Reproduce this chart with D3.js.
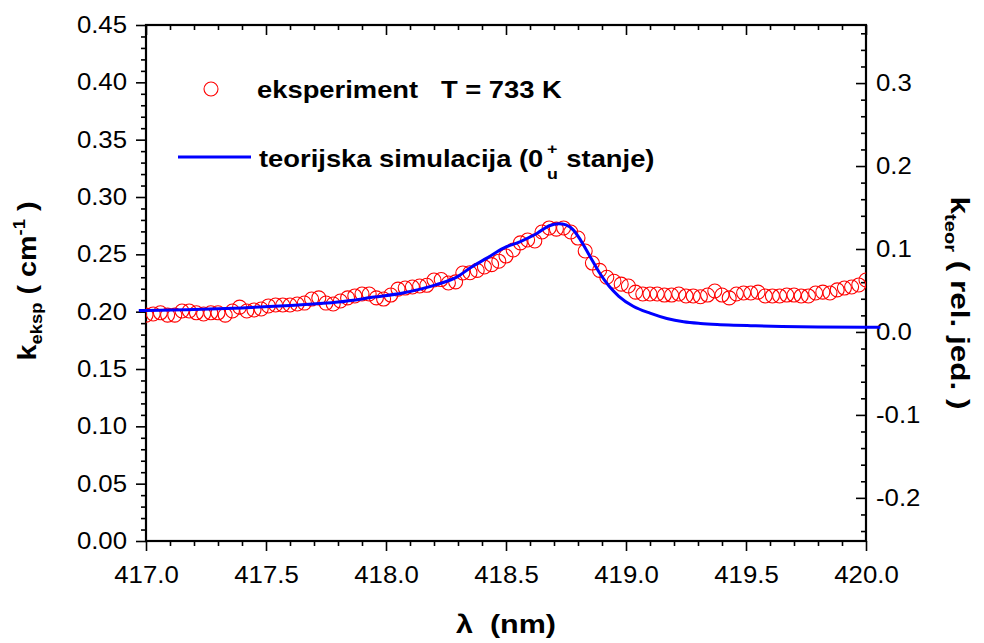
<!DOCTYPE html>
<html>
<head>
<meta charset="utf-8">
<script src="https://cdn.jsdelivr.net/npm/d3@7/dist/d3.min.js"></script>
<style>
  html, body { margin: 0; padding: 0; background: #fff; }
  svg { display: block; }
  text { font-family: "Liberation Sans", Arial, sans-serif; white-space: pre; }
</style>
</head>
<body>
<svg id="chart" width="984" height="643"></svg>
<script>
// ---------------- DATA ----------------
const wavelengths = [
  417.00, 417.03, 417.06, 417.09, 417.12, 417.15, 417.18, 417.21, 417.24, 417.27,
  417.30, 417.33, 417.36, 417.39, 417.42, 417.45, 417.48, 417.51, 417.54, 417.57,
  417.60, 417.63, 417.66, 417.69, 417.72, 417.75, 417.78, 417.81, 417.84, 417.87,
  417.90, 417.93, 417.96, 417.99, 418.02, 418.05, 418.08, 418.11, 418.14, 418.17,
  418.20, 418.23, 418.26, 418.29, 418.32, 418.35, 418.38, 418.41, 418.44, 418.47,
  418.50, 418.53, 418.56, 418.59, 418.62, 418.65, 418.68, 418.71, 418.74, 418.77,
  418.80, 418.83, 418.86, 418.89, 418.92, 418.95, 418.98, 419.01, 419.04, 419.07,
  419.10, 419.13, 419.16, 419.19, 419.22, 419.25, 419.28, 419.31, 419.34, 419.37,
  419.40, 419.43, 419.46, 419.49, 419.52, 419.55, 419.58, 419.61, 419.64, 419.67,
  419.70, 419.73, 419.76, 419.79, 419.82, 419.85, 419.88, 419.91, 419.94, 419.97,
  420.00
];
const kEksp = [
  0.197, 0.198, 0.199, 0.197, 0.197, 0.2006, 0.2006, 0.199, 0.198, 0.199,
  0.199, 0.197, 0.2006, 0.204, 0.2006, 0.2015, 0.2023, 0.205, 0.2058, 0.2058,
  0.2058, 0.2067, 0.2075, 0.211, 0.212, 0.2075, 0.2067, 0.2093, 0.212, 0.2137,
  0.2154, 0.2154, 0.212, 0.211, 0.2145, 0.2197, 0.2206, 0.2215, 0.2224, 0.223,
  0.2276, 0.228, 0.225, 0.226, 0.2337, 0.234, 0.236, 0.239, 0.241, 0.244,
  0.2485, 0.2538, 0.260, 0.2625, 0.2616, 0.2695, 0.273, 0.272, 0.273, 0.2695,
  0.2642, 0.2529, 0.2424, 0.236, 0.230, 0.2265, 0.224, 0.2224, 0.217, 0.2154,
  0.2154, 0.2154, 0.2145, 0.2145, 0.2154, 0.2137, 0.2137, 0.213, 0.2145, 0.218,
  0.2145, 0.212, 0.2154, 0.2163, 0.2163, 0.217, 0.2137, 0.2137, 0.2137, 0.2145,
  0.2145, 0.2137, 0.2137, 0.2163, 0.217, 0.2163, 0.219, 0.2206, 0.2215, 0.2233,
  0.2276
];
const teorWavelengths = [
  416.97, 417.00, 417.20, 417.40, 417.60, 417.80, 417.95, 418.07, 418.21, 418.30,
  418.35, 418.42, 418.49, 418.56, 418.63, 418.68, 418.72, 418.75, 418.78, 418.81,
  418.85, 418.89, 418.93, 418.97, 419.03, 419.10, 419.17, 419.24, 419.31, 419.38,
  419.45, 419.52, 419.65, 419.80, 420.00, 420.06
];
const kTeor = [
  0.026, 0.026, 0.027, 0.029, 0.032, 0.036, 0.042, 0.047, 0.057, 0.067,
  0.077, 0.089, 0.101, 0.109, 0.119, 0.128, 0.1305, 0.129, 0.123, 0.111,
  0.091, 0.071, 0.055, 0.043, 0.031, 0.0226, 0.0162, 0.0122, 0.0102, 0.0090,
  0.0082, 0.0076, 0.0066, 0.0060, 0.0057, 0.0057
];
const xTickValues = [417.0, 417.5, 418.0, 418.5, 419.0, 419.5, 420.0];
const xMinorTicks = [417.1,417.2,417.3,417.4,417.6,417.7,417.8,417.9,418.1,418.2,418.3,418.4,418.6,418.7,418.8,418.9,419.1,419.2,419.3,419.4,419.6,419.7,419.8,419.9];
const yLeftTickValues = [0.00, 0.05, 0.10, 0.15, 0.20, 0.25, 0.30, 0.35, 0.40, 0.45];
const yLeftMinorTicks = [0.01,0.02,0.03,0.04,0.06,0.07,0.08,0.09,0.11,0.12,0.13,0.14,0.16,0.17,0.18,0.19,0.21,0.22,0.23,0.24,0.26,0.27,0.28,0.29,0.31,0.32,0.33,0.34,0.36,0.37,0.38,0.39,0.41,0.42,0.43,0.44];
const yRightTickValues = [-0.2, -0.1, 0.0, 0.1, 0.2, 0.3];
const yRightMinorTicks = [-0.24,-0.22,-0.18,-0.16,-0.14,-0.12,-0.08,-0.06,-0.04,-0.02,0.02,0.04,0.06,0.08,0.12,0.14,0.16,0.18,0.22,0.24,0.26,0.28,0.32,0.34,0.36];
const legendLabels = ["eksperiment   T = 733 K", "teorijska simulacija (0"];

// ---------------- LAYOUT ----------------
const L = 146, R = 866, T = 25, B = 541;
const svg = d3.select("#chart");
const x = d3.scaleLinear().domain([417, 420]).range([L, R]);
const yL = d3.scaleLinear().domain([0, 0.45]).range([B, T]);
const yR = d3.scaleLinear().domain([-0.252, 0.37]).range([B, T]);

const TICK_FS = 23, TICK_K = 1.12;
function stretch(sel, k) {
  sel.each(function () {
    const w = this.getComputedTextLength();
    this.setAttribute("textLength", (w * k).toFixed(2));
    this.setAttribute("lengthAdjust", "spacingAndGlyphs");
  });
}
function styleAxis(g, labels) {
  g.select(".domain").remove();
  g.selectAll(".tick line").attr("stroke", "#000").attr("stroke-width", 1.6);
  g.selectAll(".tick text").attr("fill", "#000").style("font-size", TICK_FS + "px")
    .style("font-family", '"Liberation Sans", Arial, sans-serif');
  if (labels) stretch(g.selectAll(".tick text"), TICK_K);
}

// bottom axis
const gB = svg.append("g").attr("transform", `translate(0,${B})`);
gB.call(d3.axisBottom(x).tickValues(xTickValues).tickSize(10).tickSizeOuter(0).tickPadding(16).tickFormat(d => d.toFixed(1)));
styleAxis(gB, true);
const gBm = svg.append("g").attr("transform", `translate(0,${B})`);
gBm.call(d3.axisBottom(x).tickValues(xMinorTicks).tickSize(5).tickSizeOuter(0).tickFormat(""));
styleAxis(gBm, false);

// top axis (inward ticks)
const gT = svg.append("g").attr("transform", `translate(0,${T})`);
gT.call(d3.axisTop(x).tickValues(xTickValues).tickSize(-10).tickSizeOuter(0).tickFormat(""));
styleAxis(gT, false);
const gTm = svg.append("g").attr("transform", `translate(0,${T})`);
gTm.call(d3.axisTop(x).tickValues(xMinorTicks).tickSize(-5).tickSizeOuter(0).tickFormat(""));
styleAxis(gTm, false);

// left axis
const gL = svg.append("g").attr("transform", `translate(${L},0)`);
gL.call(d3.axisLeft(yL).tickValues(yLeftTickValues).tickSize(10).tickSizeOuter(0).tickPadding(9).tickFormat(d => d.toFixed(2)));
styleAxis(gL, true);
const gLm = svg.append("g").attr("transform", `translate(${L},0)`);
gLm.call(d3.axisLeft(yL).tickValues(yLeftMinorTicks).tickSize(5).tickSizeOuter(0).tickFormat(""));
styleAxis(gLm, false);

// right axis (inward ticks)
const gR = svg.append("g").attr("transform", `translate(${R},0)`);
gR.call(d3.axisRight(yR).tickValues(yRightTickValues).tickSize(-10).tickSizeOuter(0).tickPadding(10).tickFormat(d => d.toFixed(1)));
styleAxis(gR, true);
const gRm = svg.append("g").attr("transform", `translate(${R},0)`);
gRm.call(d3.axisRight(yR).tickValues(yRightMinorTicks).tickSize(-5).tickSizeOuter(0).tickFormat(""));
styleAxis(gRm, false);

// frame
svg.append("rect").attr("x", L).attr("y", T).attr("width", R - L).attr("height", B - T)
  .attr("fill", "none").attr("stroke", "#000").attr("stroke-width", 2.2);

// clip for markers
svg.append("clipPath").attr("id", "plotclip").append("rect")
  .attr("x", L).attr("y", T).attr("width", R - L).attr("height", B - T);

// experimental circles
const expData = wavelengths.map((w, i) => ({ w, k: kEksp[i] }));
svg.append("g").attr("clip-path", "url(#plotclip)")
  .selectAll("circle").data(expData).join("circle")
  .attr("cx", d => x(d.w)).attr("cy", d => yL(d.k)).attr("r", 7)
  .attr("fill", "none").attr("stroke", "#ff0000").attr("stroke-width", 1.1);

// theoretical line
const teorData = teorWavelengths.map((w, i) => ({ w, k: kTeor[i] }));
const line = d3.line().x(d => x(d.w)).y(d => yR(d.k)).curve(d3.curveMonotoneX);
svg.append("path").datum(teorData).attr("d", line)
  .attr("fill", "none").attr("stroke", "#0000ff").attr("stroke-width", 3).attr("stroke-linejoin", "round");

// rich text helper: runs = [{t, fs, dy, dx}]
function rich(g, runs, anchor) {
  const t = g.append("text").attr("text-anchor", anchor || "start").attr("fill", "#000")
    .style("font-weight", "bold");
  runs.forEach(r => {
    const ts = t.append("tspan").text(r.t).style("font-size", r.fs + "px");
    if (r.dy) ts.attr("dy", r.dy);
    if (r.dx) ts.attr("dx", r.dx);
  });
  return t;
}

// legend
const LEG_K = 1.19;
svg.append("circle").attr("cx", 211).attr("cy", 89).attr("r", 7)
  .attr("fill", "none").attr("stroke", "#ff0000").attr("stroke-width", 1.1);
const lg1 = svg.append("g").attr("transform", `translate(257,98) scale(${LEG_K},1)`);
rich(lg1, [{ t: legendLabels[0], fs: 23 }]);

svg.append("line").attr("x1", 178).attr("x2", 251).attr("y1", 157).attr("y2", 157)
  .attr("stroke", "#0000ff").attr("stroke-width", 3);
const lg2 = svg.append("g").attr("transform", `translate(259,167) scale(${LEG_K},1)`);
rich(lg2, [
  { t: legendLabels[1], fs: 23 },
  { t: "u", fs: 15, dy: 12, dx: 3 },
  { t: "+", fs: 15, dy: -25, dx: -9 },
  { t: " stanje)", fs: 23, dy: 13, dx: 1 }
]);

// axis titles
const gxt = svg.append("g").attr("transform", `translate(506,633) scale(1.22,1)`);
rich(gxt, [{ t: "λ  (nm)", fs: 25 }], "middle");

const gyl = svg.append("g").attr("transform", `translate(36,281) rotate(-90) scale(1.15,1)`);
rich(gyl, [
  { t: "k", fs: 25 },
  { t: "eksp", fs: 16, dy: 6 },
  { t: " ( cm", fs: 25, dy: -6 },
  { t: "-1", fs: 16, dy: -11 },
  { t: " )", fs: 25, dy: 11 }
], "middle");

const gyr = svg.append("g").attr("transform", `translate(951,303) rotate(90) scale(1.26,1)`);
rich(gyr, [
  { t: "k", fs: 25 },
  { t: "teor", fs: 16, dy: 6 },
  { t: " ( rel. jed. )", fs: 25, dy: -6 }
], "middle");
</script>
</body>
</html>
